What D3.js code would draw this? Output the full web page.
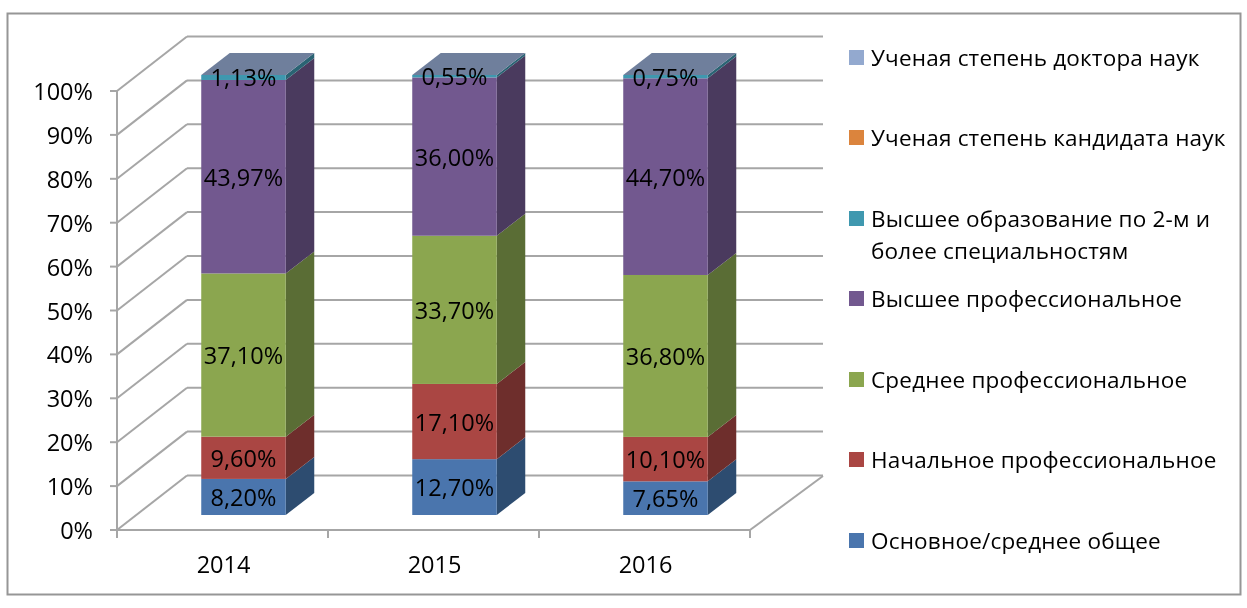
<!DOCTYPE html>
<html><head><meta charset="utf-8">
<script src="https://cdn.jsdelivr.net/npm/d3@7/dist/d3.min.js"></script>
<style>html,body{margin:0;background:#fff}svg{display:block;filter:blur(0.35px)}text{font-family:"Open Sans","Noto Sans",sans-serif;fill:#000}</style>
</head><body><svg id="c" width="1247" height="608"></svg>
<script>
const years = ["2014","2015","2016"];
const seriesNames = ["Основное/среднее общее","Начальное профессиональное","Среднее профессиональное","Высшее профессиональное","Высшее образование по 2-м и более специальностям","Ученая степень кандидата наук","Ученая степень доктора наук"];
const basic = [8.2,12.7,7.65];
const primary = [9.6,17.1,10.1];
const secondary = [37.1,33.7,36.8];
const higher = [43.97,36.0,44.7];
const twoDegrees = [1.13,0.55,0.75];
const candidate = [0,0,0];
const doctor = [0,0,0];
const frontColors = ["#4a75ad","#aa4643","#8ba64f","#72588f","#3f98af","#db843d","#93a9cf"];
const sideColors = ["#2d4c70","#6e2e2c","#5a6d35","#4a3a5e","#2a6373","#8e5825","#5f7190"];
const topColor = "#6f7f9c";
const yTicks = d3.range(0,1.01,0.1);

const svg = d3.select("#c");
const grey="#a6a6a6";
svg.append("rect").attr("x",7.5).attr("y",13.5).attr("width",1233).attr("height",581).attr("fill","#fff").attr("stroke","#969696").attr("stroke-width",2);

const cols = [basic,primary,secondary,higher,twoDegrees,candidate,doctor];
const rows = years.map((y,i)=>{const r={year:y};cols.forEach((c,k)=>r[k]=c[i]);return r;});
const stacked = d3.stack().keys(d3.range(cols.length)).offset(d3.stackOffsetExpand)(rows);

// plot geometry
const wallY = d3.scaleLinear().domain([0,1]).range([530,91]);
const barY = d3.scaleLinear().domain([0,1]).range([515,75]);
const x = d3.scaleBand().domain(years).range([117,750]);
const depthX=70, depthY=-54.5, barDX=28.5, barDY=-22, barW=84.5;
const barCx = y => x(y)+x.bandwidth()/2+21;

const g = svg.append("g").attr("fill","none").attr("stroke",grey).attr("stroke-width",2);
yTicks.forEach(t=>{
  const yy=wallY(t);
  g.append("line").attr("x1",117).attr("x2",117+depthX).attr("y1",yy).attr("y2",yy+depthY);
  g.append("line").attr("x1",117+depthX).attr("x2",750+depthX+3).attr("y1",yy+depthY).attr("y2",yy+depthY);
  g.append("line").attr("x1",110).attr("x2",117).attr("y1",yy).attr("y2",yy);
});
g.append("line").attr("x1",117).attr("x2",117).attr("y1",wallY(1)).attr("y2",wallY(0));
g.append("line").attr("x1",117).attr("x2",750).attr("y1",530).attr("y2",530);
g.append("line").attr("x1",750).attr("x2",823).attr("y1",530).attr("y2",476);
years.concat("end").forEach((y,i)=>{
  const xx=i<3?x(y):750;
  g.append("line").attr("x1",xx).attr("x2",xx).attr("y1",530).attr("y2",538);
});

// bars
years.forEach((yr,i)=>{
  const left=barCx(yr)-barW/2, right=left+barW;
  const bg=svg.append("g");
  stacked.forEach((s,k)=>{
    const y0=barY(s[i][0]), y1=barY(s[i][1]);
    if(y0-y1<=0) return;
    bg.append("path").attr("fill",sideColors[k]).attr("d",
      `M${right},${y0}L${right+barDX},${y0+barDY}L${right+barDX},${y1+barDY}L${right},${y1}Z`);
    bg.append("rect").attr("x",left).attr("y",y1).attr("width",barW).attr("height",y0-y1).attr("fill",frontColors[k]);
  });
  const t=barY(1);
  bg.append("path").attr("fill",topColor).attr("d",`M${left},${t}L${left+barDX},${t+barDY}L${right+barDX},${t+barDY}L${right},${t}Z`);
  stacked.forEach((s,k)=>{
    if(cols[k][i]===0) return;
    svg.append("text").attr("x",(left+right)/2).attr("y",barY((s[i][0]+s[i][1])/2)+9)
      .attr("text-anchor","middle").attr("font-size",23.5)
      .text(cols[k][i].toFixed(2).replace(".",",")+"%");
  });
});

// axis labels
yTicks.forEach(t=>{
  svg.append("text").attr("x",93).attr("y",wallY(t)+9).attr("text-anchor","end")
    .attr("font-size",23.5).text(Math.round(t*100)+"%");
});
years.forEach(y=>{
  svg.append("text").attr("x",x(y)+x.bandwidth()/2+1).attr("y",573).attr("text-anchor","middle")
    .attr("font-size",23.5).text(y);
});

// legend
const legendBase=[[549],[468],[388],[307],[227,259],[146],[66]];
const legendLines=[[seriesNames[0]],[seriesNames[1]],[seriesNames[2]],[seriesNames[3]],["Высшее образование по 2-м и","более специальностям"],[seriesNames[5]],[seriesNames[6]]];
legendLines.forEach((lines,k)=>{
  const ys=legendBase[k];
  svg.append("rect").attr("x",849).attr("y",ys[0]-16).attr("width",15).attr("height",15).attr("fill",frontColors[k]);
  lines.forEach((l,j)=>svg.append("text").attr("x",871).attr("y",ys[j]).attr("font-size",22.5).attr("letter-spacing",0.2).text(l));
});
</script></body></html>
